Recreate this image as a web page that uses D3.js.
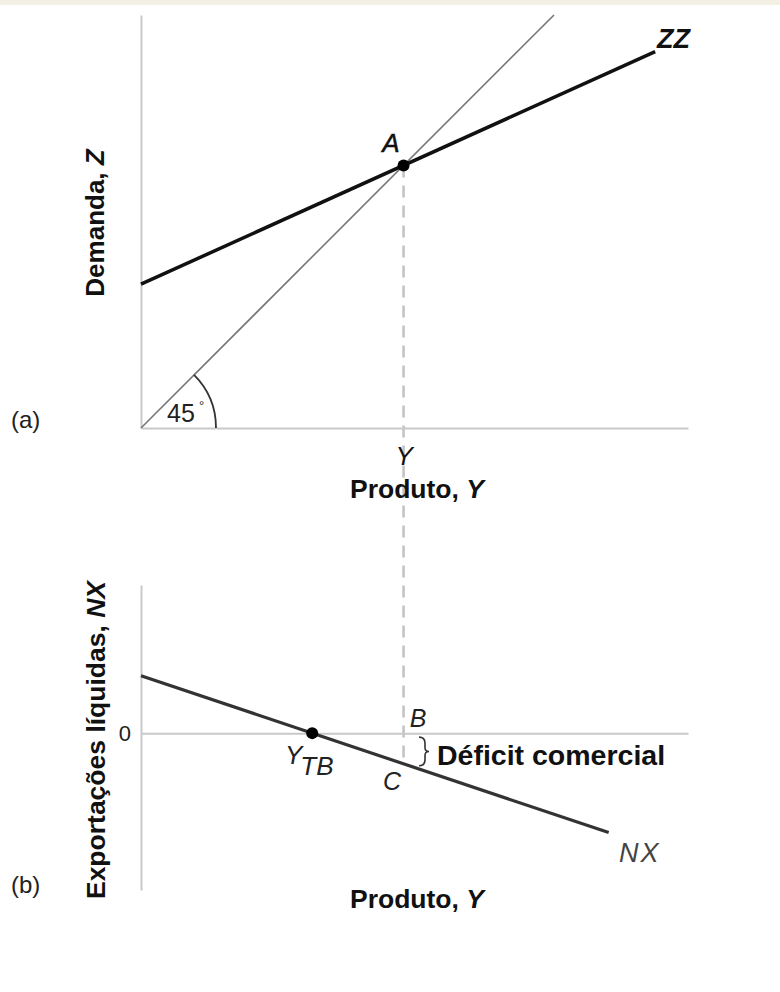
<!DOCTYPE html>
<html><head><meta charset="utf-8">
<script src="https://cdn.jsdelivr.net/npm/d3@7"></script>
<style>
html,body{margin:0;padding:0;background:#fff;}
svg{display:block;font-family:"Liberation Sans",Arial,Helvetica,sans-serif;}
</style></head>
<body>
<script>
// ---- data (in model units) ----
const xDomain = [0, 10];
const yTopDomain = [0, 7.55];
const yBotDomain = [-2.87, 2.71];
const line45X = [0, 7.55];
const line45Y = [0, 7.55];
const zzX = [0, 9.4];
const zzY = [2.63, 6.88];
const nxX = [0, 8.55];
const nxY = [1.05, -1.82];
const pointA = [4.8, 4.8];
const pointYTB = [3.13, 0];
const pointC = [4.8, -0.56];
const topXTicks = [4.8];
const topXTickLabels = ["Y"];
const botYTicks = [0];
const botYTickLabels = ["0"];

const W = 780, H = 992;
const svg = d3.select("body").append("svg").attr("width", W).attr("height", H);
svg.append("rect").attr("x",0).attr("y",0).attr("width",W).attr("height",5).attr("fill","#f4efe4");

const x = d3.scaleLinear().domain(xDomain).range([141, 688]);
const yT = d3.scaleLinear().domain(yTopDomain).range([428, 15]);
const yB = d3.scaleLinear().domain(yBotDomain).range([890, 585]);

const axisColor = "#c9c9c9";
function styleAxis(g){
  g.select(".domain").attr("stroke", axisColor).attr("stroke-width", 2);
  g.selectAll(".tick line").remove();
}

// ---------- Panel (a) ----------
const gA = svg.append("g");
gA.append("g").attr("transform", `translate(${x(0)},0)`)
  .call(d3.axisLeft(yT).tickValues([]).tickSizeOuter(0)).call(styleAxis);
const xAxT = gA.append("g").attr("transform", `translate(0,${yT(0)})`)
  .call(d3.axisBottom(x).tickValues(topXTicks).tickFormat((d,i)=>topXTickLabels[i]).tickSize(0).tickSizeOuter(0))
  .call(styleAxis);

// dashed vertical from A down to C
svg.insert("line", ":first-child")
  .attr("x1", x(pointA[0])).attr("y1", yT(pointA[1]))
  .attr("x2", x(pointC[0])).attr("y2", yB(pointC[1]))
  .attr("stroke", "#c2c2c2").attr("stroke-width", 2.5).attr("stroke-dasharray", "12,8");
svg.select("rect").lower();

xAxT.selectAll(".tick text").attr("font-size", 26).attr("font-style","italic")
  .attr("fill","#111").attr("dy", 0).attr("y", 37).attr("font-family","Liberation Sans, Arial, sans-serif");

const line = (sx, sy) => d3.line().x(d=>sx(d[0])).y(d=>sy(d[1]));
gA.append("path").datum(line45X.map((v,i)=>[v, line45Y[i]]))
  .attr("d", line(x,yT)).attr("fill","none").attr("stroke","#777").attr("stroke-width",1.6);
gA.append("path").datum(zzX.map((v,i)=>[v, zzY[i]]))
  .attr("d", line(x,yT)).attr("fill","none").attr("stroke","#111").attr("stroke-width",3.5);

// 45 degree arc
const p = d3.path();
p.arc(x(0), yT(0), 75, -Math.PI/4, 0);
gA.append("path").attr("d", p.toString()).attr("fill","none").attr("stroke","#333").attr("stroke-width",1.8);
gA.append("text").attr("x",167).attr("y",422).attr("font-size",25).attr("fill","#222").text("45");
gA.append("text").attr("x",199).attr("y",410).attr("font-size",13).attr("fill","#222").text("°");

gA.append("circle").attr("cx", x(pointA[0])).attr("cy", yT(pointA[1])).attr("r", 6).attr("fill","#000");
gA.append("text").attr("x",391).attr("y",152).attr("text-anchor","middle").attr("font-size",26)
  .attr("font-style","italic").attr("fill","#111").attr("stroke","#111").attr("stroke-width",0.5).text("A");
gA.append("text").attr("x",657).attr("y",48).attr("font-size",27).attr("font-weight","bold")
  .attr("font-style","italic").attr("fill","#111").text("ZZ");

gA.append("text").attr("transform","translate(104,223) rotate(-90)").attr("text-anchor","middle")
  .attr("font-size",26).attr("font-weight","bold").attr("fill","#111")
  .html('Demanda, <tspan font-style="italic">Z</tspan>');
gA.append("text").attr("x",417).attr("y",498).attr("text-anchor","middle")
  .attr("font-size",26.5).attr("font-weight","bold").attr("fill","#111")
  .html('Produto, <tspan font-style="italic">Y</tspan>');
gA.append("text").attr("x",11).attr("y",428).attr("font-size",24).attr("fill","#222").text("(a)");

// ---------- Panel (b) ----------
const gB = svg.append("g");
gB.append("g").attr("transform", `translate(${x(0)},0)`)
  .call(d3.axisLeft(yB).tickValues([]).tickSizeOuter(0)).call(styleAxis);
gB.append("g").attr("transform", `translate(0,${yB(0)})`)
  .call(d3.axisBottom(x).tickValues([]).tickSizeOuter(0)).call(styleAxis);
const yAxB = gB.append("g").attr("transform", `translate(${x(0)},0)`)
  .call(d3.axisLeft(yB).tickValues(botYTicks).tickFormat((d,i)=>botYTickLabels[i]).tickSize(0).tickPadding(10));
yAxB.select(".domain").remove();
yAxB.selectAll(".tick text").attr("font-size",22).attr("fill","#222").attr("font-family","Liberation Sans, Arial, sans-serif");

gB.append("path").datum(nxX.map((v,i)=>[v, nxY[i]]))
  .attr("d", line(x,yB)).attr("fill","none").attr("stroke","#333").attr("stroke-width",3.2);
gB.append("circle").attr("cx", x(pointYTB[0])).attr("cy", yB(pointYTB[1])).attr("r", 6).attr("fill","#000");

// Y_TB label
const ytb = gB.append("text").attr("x",285).attr("y",764).attr("font-size",26).attr("font-style","italic").attr("fill","#222");
ytb.append("tspan").text("Y");
ytb.append("tspan").attr("dy",11).attr("dx",-2).text("TB");

gB.append("text").attr("x",418).attr("y",727).attr("text-anchor","middle").attr("font-size",25)
  .attr("font-style","italic").attr("fill","#222").text("B");
gB.append("text").attr("x",392).attr("y",790).attr("text-anchor","middle").attr("font-size",25)
  .attr("font-style","italic").attr("fill","#222").text("C");

// brace
const bx = 419, by0 = yB(0)+4, by1 = yB(pointC[1])+2, bm = (by0+by1)/2;
gB.append("path")
  .attr("d", `M${bx},${by0} Q${bx+6},${by0} ${bx+6},${by0+6} L${bx+6},${bm-4} Q${bx+6},${bm} ${bx+10},${bm} Q${bx+6},${bm} ${bx+6},${bm+4} L${bx+6},${by1-6} Q${bx+6},${by1} ${bx},${by1}`)
  .attr("fill","none").attr("stroke","#333").attr("stroke-width",1.6);
gB.append("text").attr("x",437).attr("y",765).attr("font-size",28.5).attr("font-weight","bold")
  .attr("fill","#111").text("Déficit comercial");

gB.append("text").attr("x",619).attr("y",862).attr("font-size",27).attr("font-style","italic")
  .attr("letter-spacing",2).attr("fill","#444").text("NX");

gB.append("text").attr("transform","translate(105,740) rotate(-90)").attr("text-anchor","middle")
  .attr("font-size",26.5).attr("font-weight","bold").attr("fill","#111")
  .html('Exportações líquidas, <tspan font-style="italic">NX</tspan>');
gB.append("text").attr("x",417).attr("y",908).attr("text-anchor","middle")
  .attr("font-size",26.5).attr("font-weight","bold").attr("fill","#111")
  .html('Produto, <tspan font-style="italic">Y</tspan>');
gB.append("text").attr("x",11).attr("y",893).attr("font-size",24).attr("fill","#222").text("(b)");
</script>
</body></html>
